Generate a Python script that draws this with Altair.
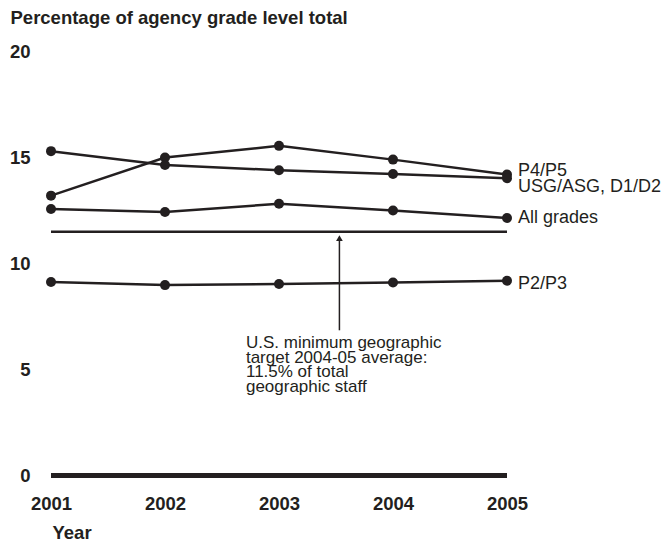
import altair as alt
import pandas as pd

# ---- data ----
years = [2001, 2002, 2003, 2004, 2005]
series_names = ["P4/P5", "USG/ASG, D1/D2", "All grades", "P2/P3"]
p4_p5 = [13.2, 15.0, 15.55, 14.9, 14.2]
usg_asg_d1_d2 = [15.3, 14.65, 14.4, 14.22, 14.02]
all_grades = [12.57, 12.43, 12.82, 12.5, 12.15]
p2_p3 = [9.13, 8.98, 9.03, 9.1, 9.19]
target_value = 11.5
y_ticks = [0, 5, 10, 15, 20]
annotation_lines = [
    "U.S. minimum geographic",
    "target 2004-05 average:",
    "11.5% of total",
    "geographic staff",
]
annotation_pos = (2002.71, 6.62)
arrow_x = 2003.53
arrow_span = (6.85, 11.2)

# ---- styling ----
FONT = "Liberation Sans"
INK = "#231f20"
BOLD_SIZE = 18.5
TEXT_SIZE = 18
label_dy = [-3, 9, 0, 3]

rows = []
for name, vals in zip(series_names, [p4_p5, usg_asg_d1_d2, all_grades, p2_p3]):
    for yr, v in zip(years, vals):
        rows.append({"series": name, "year": yr, "value": v})
df = pd.DataFrame(rows)

x_scale = alt.Scale(domain=[years[0], years[-1]], nice=False, zero=False)
y_scale = alt.Scale(domain=[y_ticks[0], y_ticks[-1]], nice=False)

x_enc = alt.X(
    "year:Q",
    scale=x_scale,
    axis=alt.Axis(
        values=years, format="d", ticks=False, domain=False, grid=False,
        labelFont=FONT, labelFontSize=BOLD_SIZE, labelFontWeight="bold", labelColor=INK,
        labelPadding=19, labelFlush=False, labelOverlap=False,
        title="Year", titleFont=FONT, titleFontSize=BOLD_SIZE, titleFontWeight="bold",
        titleColor=INK, titleAnchor="start", titleAlign="left", titleX=1,
        titleY=63, titleBaseline="alphabetic",
    ),
)
y_enc = alt.Y(
    "value:Q",
    scale=y_scale,
    axis=alt.Axis(
        values=y_ticks, ticks=False, domain=False, grid=False,
        labelFont=FONT, labelFontSize=BOLD_SIZE, labelFontWeight="bold", labelColor=INK,
        labelPadding=21, labelAlign="right", labelBaseline="middle",
        title="Percentage of agency grade level total", titleFont=FONT,
        titleFontSize=BOLD_SIZE, titleFontWeight="bold", titleColor=INK, titleAngle=0,
        titleAlign="left", titleBaseline="middle", titleX=-41, titleY=-34.5,
    ),
)

lines = alt.Chart(df).mark_line(color=INK, strokeWidth=2.5).encode(
    x=x_enc, y=y_enc, detail="series:N"
)
points = alt.Chart(df).mark_circle(color=INK, size=100, opacity=1).encode(
    x="year:Q", y="value:Q"
)

base_df = pd.DataFrame({"year": [years[0]], "year2": [years[-1]], "value": [0]})
zero_line = alt.Chart(base_df).mark_rule(color=INK, strokeWidth=5).encode(
    x="year:Q", x2="year2:Q", y="value:Q"
)
target_df = pd.DataFrame({"year": [years[0]], "year2": [years[-1]], "value": [target_value]})
target_line = alt.Chart(target_df).mark_rule(color=INK, strokeWidth=2.5).encode(
    x="year:Q", x2="year2:Q", y="value:Q"
)

arrow_df = pd.DataFrame({"year": [arrow_x], "value": [arrow_span[0]], "value2": [arrow_span[1]]})
arrow_shaft = alt.Chart(arrow_df).mark_rule(color=INK, strokeWidth=1.5).encode(
    x="year:Q", y="value:Q", y2="value2:Q"
)
head_df = pd.DataFrame({"year": [arrow_x], "value": [arrow_span[1]]})
arrow_head = alt.Chart(head_df).mark_point(
    shape="triangle-up", filled=True, color=INK, size=45, opacity=1
).encode(x="year:Q", y="value:Q")

ann_df = pd.DataFrame({"year": [annotation_pos[0]], "value": [annotation_pos[1]],
                       "text": ["\n".join(annotation_lines)]})
annotation = alt.Chart(ann_df).mark_text(
    align="left", baseline="top", font=FONT, fontSize=17, lineHeight=14.5,
    color=INK, lineBreak="\n",
).encode(x="year:Q", y="value:Q", text="text:N")

label_layers = []
last_vals = [p4_p5[-1], usg_asg_d1_d2[-1], all_grades[-1], p2_p3[-1]]
for name, v, dy in zip(series_names, last_vals, label_dy):
    ldf = pd.DataFrame({"year": [years[-1]], "value": [v], "text": [name]})
    label_layers.append(
        alt.Chart(ldf).mark_text(
            align="left", baseline="middle", dx=11, dy=dy, font=FONT,
            fontSize=TEXT_SIZE, color=INK,
        ).encode(x="year:Q", y="value:Q", text="text:N")
    )

chart = alt.layer(
    lines, zero_line, target_line, arrow_shaft, arrow_head, points, annotation,
    *label_layers,
).properties(
    width=456, height=424,
    background="white",
    autosize=alt.AutoSizeParams(type="none"),
    padding={"left": 43, "top": 43.5, "right": 155, "bottom": 64.5},
).configure_view(stroke=None).configure_axis(
    domain=False, ticks=False, grid=False
)

chart.save("out.html", embed_options={"renderer": "svg", "actions": False})
